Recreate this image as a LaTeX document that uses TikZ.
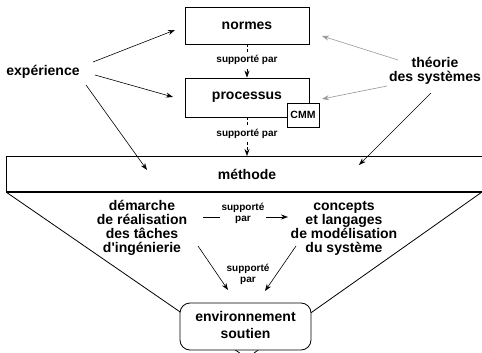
\documentclass[tikz,border=0pt]{standalone}
\usepackage{fontspec}
\setmainfont{Liberation Sans}
\usetikzlibrary{arrows.meta}
\begin{document}
\begin{tikzpicture}[x=1pt,y=-1pt,
  big/.style={font=\bfseries\fontsize{14}{14}\selectfont, align=center},
  small/.style={font=\bfseries\fontsize{10}{11}\selectfont, align=center, fill=white, inner sep=2pt},
  box/.style={draw, line width=0.8pt, fill=white, minimum width=124pt, inner sep=0pt},
  arr/.style={-{Stealth[length=7pt,width=5pt]}, line width=0.6pt},
  garr/.style={arr, draw=gray!80},
  darr/.style={arr, dash pattern=on 3pt off 2pt}
]
\useasboundingbox (0,0) rectangle (482,353);

% the method band and the funnel below it
\draw[line width=0.8pt] (482,156) -- (6,156) -- (6,192);
\draw[line width=1.4pt] (6,192) -- (482,192);
\coordinate (fl) at (6,192);
\coordinate (fr) at (482,192);
\coordinate (fla) at (239.7,353);
\coordinate (fra) at (254,353);
\draw[line width=0.8pt] (fl) -- (fla);
\draw[line width=0.8pt] (fr) -- (fra);
\node[big] (meth) at (247,174.5) {méthode};

% upper boxes
\node[box, big, minimum height=37pt] (normes) at (247,25.5) {normes};
\node[box, big, minimum height=39pt] (proc) at (247,97.5) {processus};
\node[draw, line width=0.8pt, fill=white, font=\bfseries\fontsize{10.5}{12}\selectfont,
      minimum width=32pt, minimum height=24pt, inner sep=0pt] (cmm) at (303,115) {CMM};

% side sources
\node[big] (exp) at (43,72) {expérience};
\node[big] (theo) at (435,70.5) {théorie\\des systèmes};

% lower contents
\node[big] (dem) at (142,227.5) {démarche\\de réalisation\\des tâches\\d\textquotesingle ingénierie};
\node[big] (conc) at (344,228.5) {concepts\\et langages\\de modélisation\\du système};
\node[draw, line width=0.8pt, fill=white, rounded corners=10pt, minimum width=131pt,
      minimum height=47pt, inner sep=0pt, font=\bfseries\fontsize{14}{17}\selectfont] (env) at (245.5,326.5)
      {\raisebox{-5pt}{\begin{tabular}{@{}c@{}}environnement\\soutien\end{tabular}}};

% "supporté par" links
\coordinate (mtop) at (247,156);
\draw[darr] (normes.south) -- node[small, pos=0.48] {supporté par} (proc.north);
\draw[darr] (proc.south) -- node[small, pos=0.42] {supporté par} (mtop);
\coordinate (hs) at (203,217);
\coordinate (he) at (288,217);
\draw[arr] (hs) -- node[small, pos=0.47, yshift=3.5pt] {supporté\\par} (he);
\node[small] (sp3) at (248,274.5) {supporté\\par};

% arrows from expérience
\coordinate (e1s) at (93,62);   \coordinate (e1e) at (175,30);
\coordinate (e2s) at (95,75);   \coordinate (e2e) at (173,97);
\coordinate (e3s) at (86,85);   \coordinate (e3e) at (147,170);
\draw[arr] (e1s) -- (e1e);
\draw[arr] (e2s) -- (e2e);
\draw[arr] (e3s) -- (e3e);

% arrows from théorie des systèmes
\coordinate (t1s) at (398,60);  \coordinate (t1e) at (322,36);
\coordinate (t2s) at (387,86);  \coordinate (t2e) at (322,99);
\coordinate (t3s) at (431,93);  \coordinate (t3e) at (359,165);
\draw[garr] (t1s) -- (t1e);
\draw[garr] (t2s) -- (t2e);
\draw[arr] (t3s) -- (t3e);

% arrows into the environment
\coordinate (d1s) at (198,246); \coordinate (d1e) at (228,290);
\coordinate (c1s) at (296,246); \coordinate (c1e) at (265,291);
\draw[arr] (d1s) -- (d1e);
\draw[arr] (c1s) -- (c1e);
\end{tikzpicture}
\end{document}
